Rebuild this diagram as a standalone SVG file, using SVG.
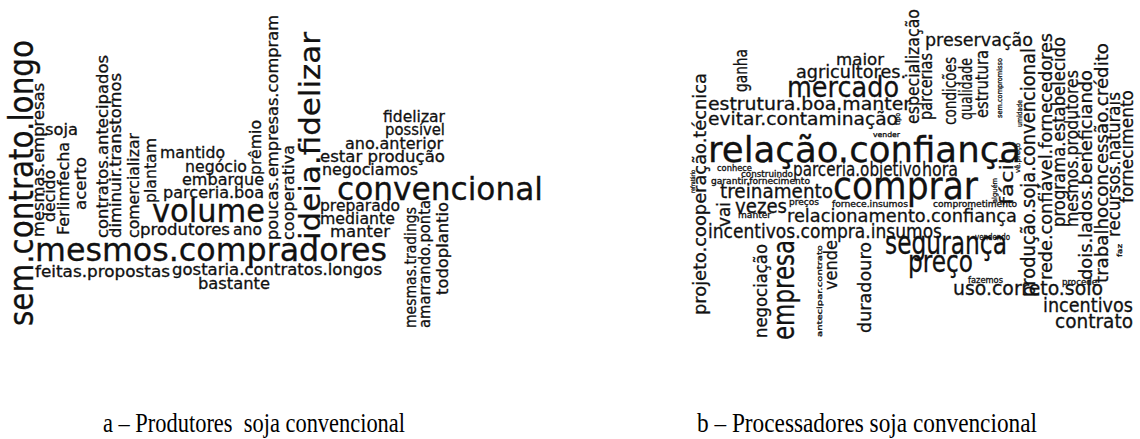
<svg xmlns="http://www.w3.org/2000/svg" width="1140" height="439" viewBox="0 0 1140 439">
<style>
text{font-family:"DejaVu Sans",Verdana,sans-serif;fill:#111;stroke:#111;stroke-width:0.3}
.cap{font-family:"Liberation Serif","Times New Roman",serif;fill:#000;stroke:none;white-space:pre}
</style>
<rect width="1140" height="439" fill="#fff"/>
<g id="cloud-a">
<text x="160" y="158" font-size="15" textLength="65" lengthAdjust="spacingAndGlyphs">mantido</text>
<text x="185" y="172" font-size="15" textLength="62" lengthAdjust="spacingAndGlyphs">negócio</text>
<text x="182" y="185" font-size="15" textLength="82" lengthAdjust="spacingAndGlyphs">embarque</text>
<text x="163" y="198" font-size="15" textLength="101" lengthAdjust="spacingAndGlyphs">parceria.boa</text>
<text x="152" y="222" font-size="32" textLength="113" lengthAdjust="spacingAndGlyphs">volume</text>
<text x="140" y="235" font-size="15" textLength="90" lengthAdjust="spacingAndGlyphs">produtores</text>
<text x="233" y="235" font-size="15" textLength="29" lengthAdjust="spacingAndGlyphs">ano</text>
<text x="35" y="261" font-size="32" textLength="352" lengthAdjust="spacingAndGlyphs">mesmos.compradores</text>
<text x="35" y="277" font-size="15" textLength="135" lengthAdjust="spacingAndGlyphs">feitas.propostas</text>
<text x="172" y="275" font-size="15" textLength="210" lengthAdjust="spacingAndGlyphs">gostaria.contratos.longos</text>
<text x="198" y="289" font-size="15" textLength="72" lengthAdjust="spacingAndGlyphs">bastante</text>
<text x="45" y="135" font-size="15" textLength="33" lengthAdjust="spacingAndGlyphs">soja</text>
<text x="383" y="122" font-size="15" textLength="62" lengthAdjust="spacingAndGlyphs">fidelizar</text>
<text x="385" y="135" font-size="15" textLength="60" lengthAdjust="spacingAndGlyphs">possível</text>
<text x="345" y="149" font-size="15" textLength="98" lengthAdjust="spacingAndGlyphs">ano.anterior</text>
<text x="320" y="162" font-size="15" textLength="125" lengthAdjust="spacingAndGlyphs">estar produção</text>
<text x="322" y="175" font-size="15" textLength="96" lengthAdjust="spacingAndGlyphs">negociamos</text>
<text x="337" y="200" font-size="32" textLength="206" lengthAdjust="spacingAndGlyphs">convencional</text>
<text x="320" y="211" font-size="15" textLength="80" lengthAdjust="spacingAndGlyphs">preparado</text>
<text x="320" y="224" font-size="15" textLength="75" lengthAdjust="spacingAndGlyphs">mediante</text>
<text x="330" y="237" font-size="15" textLength="60" lengthAdjust="spacingAndGlyphs">manter</text>
<text transform="translate(33,326) rotate(-90)" font-size="33" textLength="286" lengthAdjust="spacingAndGlyphs">sem.contrato.longo</text>
<text transform="translate(44,237) rotate(-90)" font-size="16" textLength="154" lengthAdjust="spacingAndGlyphs">mesmas.empresas</text>
<text transform="translate(55,222) rotate(-90)" font-size="15" textLength="52" lengthAdjust="spacingAndGlyphs">decido</text>
<text transform="translate(69,235) rotate(-90)" font-size="15" textLength="93" lengthAdjust="spacingAndGlyphs">Ferlimfecha</text>
<text transform="translate(86,210) rotate(-90)" font-size="15" textLength="53" lengthAdjust="spacingAndGlyphs">acerto</text>
<text transform="translate(108,238) rotate(-90)" font-size="15" textLength="183" lengthAdjust="spacingAndGlyphs">contratos.antecipados</text>
<text transform="translate(121,238) rotate(-90)" font-size="15" textLength="165" lengthAdjust="spacingAndGlyphs">diminuir.transtornos</text>
<text transform="translate(139,238) rotate(-90)" font-size="15" textLength="105" lengthAdjust="spacingAndGlyphs">comercializar</text>
<text transform="translate(156,203) rotate(-90)" font-size="15" textLength="65" lengthAdjust="spacingAndGlyphs">plantam</text>
<text transform="translate(261,175) rotate(-90)" font-size="15" textLength="55" lengthAdjust="spacingAndGlyphs">prêmio</text>
<text transform="translate(278,240) rotate(-90)" font-size="15" textLength="225" lengthAdjust="spacingAndGlyphs">poucas.empresas.compram</text>
<text transform="translate(294,240) rotate(-90)" font-size="15" textLength="95" lengthAdjust="spacingAndGlyphs">cooperativa</text>
<text transform="translate(320,240) rotate(-90)" font-size="28" textLength="208" lengthAdjust="spacingAndGlyphs">ideia.fidelizar</text>
<text transform="translate(416,328) rotate(-90)" font-size="15" textLength="121" lengthAdjust="spacingAndGlyphs">mesmas.tradings</text>
<text transform="translate(430,328) rotate(-90)" font-size="15" textLength="128" lengthAdjust="spacingAndGlyphs">amarrando.ponta</text>
<text transform="translate(448,295) rotate(-90)" font-size="15" textLength="93" lengthAdjust="spacingAndGlyphs">todoplantio</text>
</g>
<g id="cloud-b">
<text x="836" y="65" font-size="16" textLength="48" lengthAdjust="spacingAndGlyphs">maior</text>
<text x="796" y="78" font-size="17" textLength="110" lengthAdjust="spacingAndGlyphs">agricultores.</text>
<text x="787" y="97" font-size="28" textLength="112" lengthAdjust="spacingAndGlyphs">mercado</text>
<text x="925" y="46" font-size="18" textLength="108" lengthAdjust="spacingAndGlyphs">preservação</text>
<text x="708" y="110" font-size="17" textLength="203" lengthAdjust="spacingAndGlyphs">estrutura.boa.manter</text>
<text x="708" y="125" font-size="17" textLength="190" lengthAdjust="spacingAndGlyphs">evitar.contaminação</text>
<text x="873" y="137" font-size="7" textLength="27" lengthAdjust="spacingAndGlyphs">vender</text>
<text x="708" y="162" font-size="36" textLength="313" lengthAdjust="spacingAndGlyphs">relação.confiança</text>
<text x="717" y="171" font-size="8" textLength="35" lengthAdjust="spacingAndGlyphs">conhece</text>
<text x="741" y="177" font-size="8" textLength="52" lengthAdjust="spacingAndGlyphs">construindo</text>
<text x="793" y="176" font-size="19" textLength="128" lengthAdjust="spacingAndGlyphs">parceria.objetivo</text>
<text x="922" y="176" font-size="19" textLength="36" lengthAdjust="spacingAndGlyphs">hora</text>
<text x="711" y="184" font-size="8" textLength="99" lengthAdjust="spacingAndGlyphs">garantir.fornecimento</text>
<text x="720" y="198" font-size="19" textLength="113" lengthAdjust="spacingAndGlyphs">treinamento</text>
<text x="833" y="199" font-size="38" textLength="145" lengthAdjust="spacingAndGlyphs">comprar</text>
<text x="789" y="205" font-size="8" textLength="30" lengthAdjust="spacingAndGlyphs">preços</text>
<text x="832" y="207" font-size="8" textLength="76" lengthAdjust="spacingAndGlyphs">fornece.insumos</text>
<text x="933" y="207" font-size="8" textLength="84" lengthAdjust="spacingAndGlyphs">comprometimento</text>
<text x="735" y="213" font-size="20" textLength="52" lengthAdjust="spacingAndGlyphs">vezes</text>
<text x="738" y="218" font-size="8" textLength="33" lengthAdjust="spacingAndGlyphs">manter</text>
<text x="787" y="222" font-size="18" textLength="230" lengthAdjust="spacingAndGlyphs">relacionamento.confiança</text>
<text x="708" y="238" font-size="19" textLength="234" lengthAdjust="spacingAndGlyphs">incentivos.compra.insumos</text>
<text x="975" y="240" font-size="8" textLength="35" lengthAdjust="spacingAndGlyphs">vendendo</text>
<text x="885" y="254" font-size="32" textLength="122" lengthAdjust="spacingAndGlyphs">segurança</text>
<text x="908" y="272" font-size="30" textLength="65" lengthAdjust="spacingAndGlyphs">preço</text>
<text x="968" y="283" font-size="8" textLength="35" lengthAdjust="spacingAndGlyphs">fazemos</text>
<text x="1062" y="285" font-size="8" textLength="35" lengthAdjust="spacingAndGlyphs">procede</text>
<text x="953" y="295" font-size="19" textLength="150" lengthAdjust="spacingAndGlyphs">uso.correto.solo</text>
<text x="1043" y="312" font-size="19" textLength="90" lengthAdjust="spacingAndGlyphs">incentivos</text>
<text x="1055" y="328" font-size="19" textLength="78" lengthAdjust="spacingAndGlyphs">contrato</text>
<text transform="translate(706,315) rotate(-90)" font-size="18" textLength="242" lengthAdjust="spacingAndGlyphs">projeto.cooperação.técnica</text>
<text transform="translate(695,193) rotate(-90)" font-size="6" textLength="23" lengthAdjust="spacingAndGlyphs">refratário</text>
<text transform="translate(747,92) rotate(-90)" font-size="17" textLength="43" lengthAdjust="spacingAndGlyphs">ganha</text>
<text transform="translate(730,227) rotate(-90)" font-size="17" textLength="25" lengthAdjust="spacingAndGlyphs">vai</text>
<text transform="translate(767,338) rotate(-90)" font-size="18" textLength="94" lengthAdjust="spacingAndGlyphs">negociação</text>
<text transform="translate(794,340) rotate(-90)" font-size="30" textLength="100" lengthAdjust="spacingAndGlyphs">empresa</text>
<text transform="translate(822,337) rotate(-90)" font-size="7" textLength="92" lengthAdjust="spacingAndGlyphs">antecipar.contrato</text>
<text transform="translate(837,290) rotate(-90)" font-size="18" textLength="50" lengthAdjust="spacingAndGlyphs">vende</text>
<text transform="translate(871,333) rotate(-90)" font-size="18" textLength="91" lengthAdjust="spacingAndGlyphs">duradouro</text>
<text transform="translate(919,124) rotate(-90)" font-size="18" textLength="115" lengthAdjust="spacingAndGlyphs">especialização</text>
<text transform="translate(900,125) rotate(-90)" font-size="7" textLength="12" lengthAdjust="spacingAndGlyphs">tipo</text>
<text transform="translate(932,120) rotate(-90)" font-size="18" textLength="67" lengthAdjust="spacingAndGlyphs">parcerias</text>
<text transform="translate(956,125) rotate(-90)" font-size="18" textLength="68" lengthAdjust="spacingAndGlyphs">condições</text>
<text transform="translate(972,120) rotate(-90)" font-size="18" textLength="62" lengthAdjust="spacingAndGlyphs">qualidade</text>
<text transform="translate(988,118) rotate(-90)" font-size="18" textLength="68" lengthAdjust="spacingAndGlyphs">estrutura</text>
<text transform="translate(1002,118) rotate(-90)" font-size="7" textLength="60" lengthAdjust="spacingAndGlyphs">sem.compromisso</text>
<text transform="translate(997,203) rotate(-90)" font-size="7" textLength="25" lengthAdjust="spacingAndGlyphs">alguém</text>
<text transform="translate(1013,205) rotate(-90)" font-size="18" textLength="47" lengthAdjust="spacingAndGlyphs">fácil</text>
<text transform="translate(1020,173) rotate(-90)" font-size="7" textLength="30" lengthAdjust="spacingAndGlyphs">vê.preço</text>
<text transform="translate(1022,127) rotate(-90)" font-size="7" textLength="27" lengthAdjust="spacingAndGlyphs">umidade</text>
<text transform="translate(1035,297) rotate(-90)" font-size="19" textLength="249" lengthAdjust="spacingAndGlyphs">produção.soja.convencional</text>
<text transform="translate(1052,280) rotate(-90)" font-size="18" textLength="247" lengthAdjust="spacingAndGlyphs">rede.confiável.fornecedores</text>
<text transform="translate(1065,227) rotate(-90)" font-size="18" textLength="190" lengthAdjust="spacingAndGlyphs">programa.estabelecido</text>
<text transform="translate(1078,227) rotate(-90)" font-size="18" textLength="157" lengthAdjust="spacingAndGlyphs">mesmos.produtores</text>
<text transform="translate(1092,280) rotate(-90)" font-size="18" textLength="210" lengthAdjust="spacingAndGlyphs">dois.lados.beneficiando</text>
<text transform="translate(1108,283) rotate(-90)" font-size="18" textLength="240" lengthAdjust="spacingAndGlyphs">trabalhoconcessão.crédito</text>
<text transform="translate(1120,237) rotate(-90)" font-size="18" textLength="145" lengthAdjust="spacingAndGlyphs">recursos.naturais</text>
<text transform="translate(1133,203) rotate(-90)" font-size="18" textLength="113" lengthAdjust="spacingAndGlyphs">fornecimento</text>
<text transform="translate(1122,257) rotate(-90)" font-size="7" textLength="13" lengthAdjust="spacingAndGlyphs">faz</text>
</g>
<g id="captions">
<text class="cap" x="103" y="432" font-size="28" textLength="302" lengthAdjust="spacingAndGlyphs">a – Produtores  soja convencional</text>
<text class="cap" x="697" y="432" font-size="28" textLength="340" lengthAdjust="spacingAndGlyphs">b – Processadores soja convencional</text>
</g>
</svg>
